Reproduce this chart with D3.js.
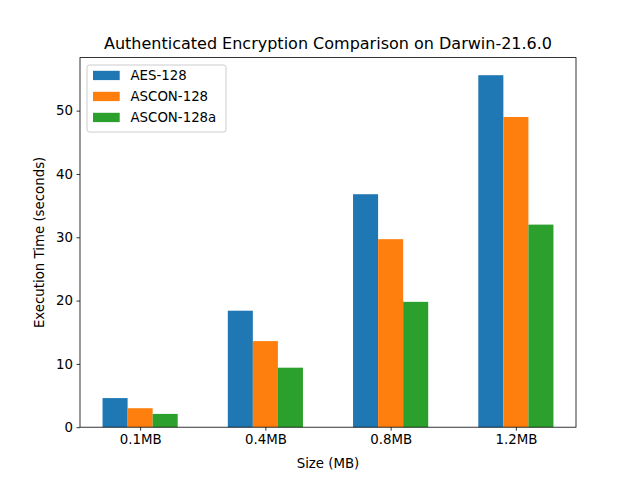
<!DOCTYPE html>
<html><head><meta charset="utf-8">
<script src="https://cdn.jsdelivr.net/npm/d3@7"></script>
<style>body{margin:0;background:#fff}svg{display:block;font-family:"DejaVu Sans",sans-serif}</style>
</head><body>
<script>
const categories = ["0.1MB", "0.4MB", "0.8MB", "1.2MB"];
const seriesNames = ["AES-128", "ASCON-128", "ASCON-128a"];
const aes128 = [4.6, 18.4, 36.8, 55.6];
const ascon128 = [3.0, 13.6, 29.7, 49.0];
const ascon128a = [2.1, 9.4, 19.8, 32.0];
const colors = ["#1f77b4", "#ff7f0e", "#2ca02c"];
const yTicks = [0, 10, 20, 30, 40, 50];
const series = [aes128, ascon128, ascon128a];

const W = 640, H = 480;
const L = 80, R = 576, T = 57.6, B = 427.2;
const svg = d3.select("body").append("svg").attr("width", W).attr("height", H);

const barW = 0.2;
const x = d3.scaleLinear().domain([-0.48, 3.48]).range([L, R]);
const ymax = d3.max(series.flat()) * 1.05;
const y = d3.scaleLinear().domain([0, ymax]).range([B, T]);

series.forEach((vals, si) => {
  svg.append("g").selectAll("rect").data(vals).join("rect")
    .attr("x", (d, i) => x(i + (si - 1) * barW - barW / 2))
    .attr("width", x(barW) - x(0))
    .attr("y", d => y(d))
    .attr("height", d => y(0) - y(d))
    .attr("fill", colors[si]);
});

const xAxis = d3.axisBottom(x).tickValues(d3.range(categories.length))
  .tickFormat(i => categories[i]).tickSize(3.5).tickPadding(3.5);
const gx = svg.append("g").attr("transform", `translate(0,${B})`).call(xAxis);
const yAxis = d3.axisLeft(y).tickValues(yTicks).tickSize(3.5).tickPadding(3.5);
const gy = svg.append("g").attr("transform", `translate(${L},0)`).call(yAxis);
[gx, gy].forEach(g => {
  g.select(".domain").remove();
  g.selectAll("text").attr("font-size", "13.33px").attr("fill", "#000").attr("font-family", "DejaVu Sans");
  g.selectAll("line").attr("stroke", "#000").attr("stroke-width", 0.8);
});

svg.append("rect").attr("x", L).attr("y", T).attr("width", R - L).attr("height", B - T)
  .attr("fill", "none").attr("stroke", "#000").attr("stroke-width", 0.8);

svg.append("text").attr("x", (L + R) / 2).attr("y", T - 8.5).attr("text-anchor", "middle")
  .attr("font-size", "16px").text("Authenticated Encryption Comparison on Darwin-21.6.0");
svg.append("text").attr("x", (L + R) / 2).attr("y", 468).attr("text-anchor", "middle")
  .attr("font-size", "13.33px").text("Size (MB)");
svg.append("text").attr("transform", `translate(44,${(T + B) / 2}) rotate(-90)`).attr("text-anchor", "middle")
  .attr("font-size", "13.33px").text("Execution Time (seconds)");

const lg = svg.append("g");
lg.append("rect").attr("x", 87).attr("y", 65).attr("width", 139).attr("height", 67)
  .attr("rx", 2.5).attr("fill", "#fff").attr("fill-opacity", 0.8).attr("stroke", "#cccccc").attr("stroke-width", 1);
seriesNames.forEach((n, i) => {
  const cy = 75.5 + i * 21;
  lg.append("rect").attr("x", 93).attr("y", cy - 4.7).attr("width", 26.7).attr("height", 9.3).attr("fill", colors[i]);
  lg.append("text").attr("x", 130.5).attr("y", cy).attr("dy", "0.35em").attr("font-size", "13.33px").text(n);
});
</script>
</body></html>
